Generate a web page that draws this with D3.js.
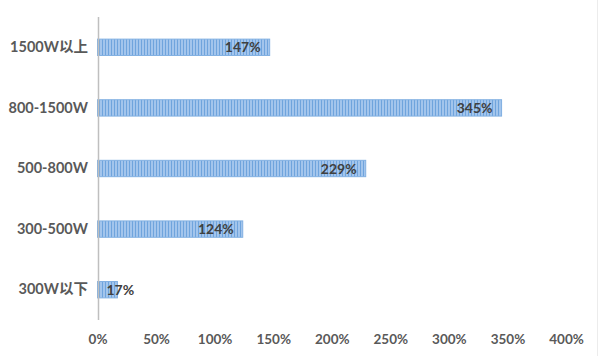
<!DOCTYPE html>
<html><head><meta charset="utf-8">
<script src="https://cdn.jsdelivr.net/npm/d3@7"></script>
<style>html,body{margin:0;padding:0;background:#fff;}svg{display:block;}</style>
</head><body>
<div id="chart"></div>
<script>
const categories = ["1500W以上", "800-1500W", "500-800W", "300-500W", "300W以下"];
const values = [147, 345, 229, 124, 17];
const tickValues = [0, 50, 100, 150, 200, 250, 300, 350, 400];

const W = 600, H = 356;
const svg = d3.select("#chart").append("svg").attr("width", W).attr("height", H);

const defs = svg.append("defs");
const pat = defs.append("pattern").attr("id", "stripes").attr("patternUnits", "userSpaceOnUse")
  .attr("width", 3).attr("height", 4);
pat.append("rect").attr("width", 3).attr("height", 4).attr("fill", "#a3c5ec");
pat.append("rect").attr("x", 0).attr("width", 1).attr("height", 4).attr("fill", "#6fa4dd");

const x = d3.scaleLinear().domain([0, 400]).range([97.5, 566]);
const y = d3.scaleBand().domain(categories).range([17, 320]).paddingInner(0.73).paddingOuter(0.365);

// faint outer border on right
svg.append("line").attr("x1", 597.5).attr("x2", 597.5).attr("y1", 0).attr("y2", H)
  .attr("stroke", "#ececec").attr("stroke-width", 1);

// bars
svg.selectAll("rect.bar").data(values).join("rect").attr("class", "bar")
  .attr("x", x(0)).attr("y", (d, i) => y(categories[i]))
  .attr("width", d => x(d) - x(0)).attr("height", y.bandwidth())
  .attr("fill", "url(#stripes)").attr("stroke", "#82b0e2").attr("stroke-width", 1);

// value labels
svg.selectAll("text.val").data(values).join("text").attr("class", "val")
  .attr("x", d => d < 30 ? x(0) + 9 : x(d) - 9)
  .attr("y", (d, i) => y(categories[i]) + y.bandwidth() / 2)
  .attr("dy", "0.36em")
  .attr("text-anchor", d => d < 30 ? "start" : "end")
  .attr("font-family", "Lato, 'Noto Sans CJK SC', sans-serif").attr("font-weight", "bold")
  .attr("font-size", 14).attr("fill", "#404040")
  .text(d => d + "%");

// y axis line
svg.append("line").attr("x1", 98.5).attr("x2", 98.5).attr("y1", 17).attr("y2", 320)
  .attr("stroke", "#bfbfbf").attr("stroke-width", 1.5);

// category labels
const yAxis = d3.axisLeft(y).tickSize(0).tickPadding(10);
const gy = svg.append("g").attr("transform", "translate(98,0)").call(yAxis);
gy.select(".domain").remove();
gy.selectAll("text").attr("font-family", "Lato, 'Noto Sans CJK SC', sans-serif")
  .attr("font-weight", "bold").attr("font-size", 14.5).attr("fill", "#595959");

// x axis labels
const xAxis = d3.axisBottom(x).tickValues(tickValues).tickSize(0).tickPadding(0).tickFormat(d => d + "%");
const gx = svg.append("g").attr("transform", "translate(0,334)").call(xAxis);
gx.select(".domain").remove();
gx.selectAll("text").attr("font-family", "Lato, sans-serif").attr("font-weight", "bold")
  .attr("font-size", 13.5).attr("fill", "#595959");
</script>
</body></html>
